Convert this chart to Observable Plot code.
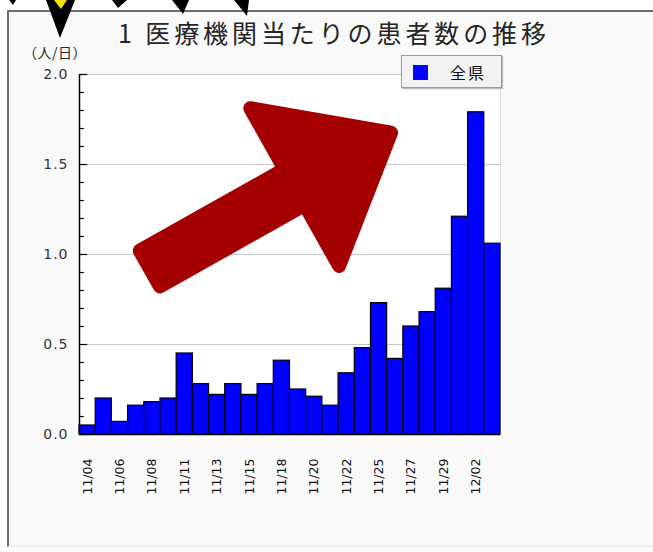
<!DOCTYPE html>
<html>
<head>
<meta charset="utf-8">
<script src="https://cdn.jsdelivr.net/npm/d3@7"></script>
<script src="https://cdn.jsdelivr.net/npm/@observablehq/plot@0.6"></script>
<style>
  body { margin: 0; background: #ffffff; }
  #wrap { position: relative; width: 653px; height: 552px; overflow: hidden; }
  #box { position: absolute; left: 7px; top: 10px; width: 700px; height: 534px;
         border-left: 2px solid #6e6e6e; border-top: 2px solid #6e6e6e; border-bottom: 1px solid #e6e6e6;
         background: #f9f9f9; }
  #chart { position: absolute; left: 0; top: 0; }
  #title { position: absolute; left: 118px; top: 20px; font-family: "Noto Sans CJK JP", sans-serif;
           font-size: 25px; line-height: 25px; letter-spacing: 3.9px; color: #252525; white-space: nowrap; }
  #ylab { position: absolute; left: 55px; top: 45px; transform: translateX(-50%);
          font-family: "Noto Sans CJK JP", sans-serif; font-size: 14px; line-height: 15px; letter-spacing: 0.5px; color: #2a2a2a; white-space: nowrap; }
  #legend { position: absolute; left: 401px; top: 55px; width: 101px; height: 33px; box-sizing: border-box;
            border: 1px solid #9a9a9a; background: #f2f2f2; box-shadow: 1px 1px 1px #bbbbbb; }
  #legend .sw { position: absolute; left: 11px; top: 9px; width: 15px; height: 15px; box-sizing: border-box;
                background: #0000ff; border: 1px solid #222; }
  #legend .lt { position: absolute; left: 48px; top: 7px; font-family: "Noto Sans CJK JP", sans-serif;
                font-size: 16px; line-height: 18px; letter-spacing: 2px; color: #111; }
  #deco { position: absolute; left: 0; top: 0; }
</style>
</head>
<body>
<div id="wrap">
  <div id="box"></div>
  <div id="chart"></div>
  <div id="title"></div>
  <div id="ylab"></div>
  <div id="legend"><div class="sw"></div><div class="lt"></div></div>
  <svg id="deco" width="653" height="60">
    <polygon points="9,0 16,0 13,5" fill="#000"/>
    <polygon points="46,0 75,0 60,38" fill="#000"/>
    <polygon points="54,0 67,0 61,9" fill="#f5e000"/>
    <polygon points="112,0 127,0 118,8" fill="#000"/>
    <polygon points="172,0 189,0 183,14" fill="#000"/>
    <polygon points="234,0 249,0 247,16" fill="#000"/>
  </svg>
</div>
<script>
// ---- data ----
const dates = ["11/04","11/05","11/06","11/07","11/08","11/09","11/11","11/12","11/13","11/14","11/15","11/16","11/18","11/19","11/20","11/21","11/22","11/23","11/25","11/26","11/27","11/28","11/29","11/30","12/02","12/03"];
const patients = [0.05,0.20,0.07,0.16,0.18,0.20,0.45,0.28,0.22,0.28,0.22,0.28,0.41,0.25,0.21,0.16,0.34,0.48,0.73,0.42,0.60,0.68,0.81,1.21,1.79,1.06];
const shownLabels = ["11/04","11/06","11/08","11/11","11/13","11/15","11/18","11/20","11/22","11/25","11/27","11/29","12/02"];
const seriesName = "全県";
const titleText = "1 医療機関当たりの患者数の推移";
const yUnit = "（人/日）";
const yTicks = [0, 0.5, 1.0, 1.5, 2.0];
const yMinorTicks = [0.1, 0.2, 0.3, 0.4, 0.6, 0.7, 0.8, 0.9, 1.1, 1.2, 1.3, 1.4, 1.6, 1.7, 1.8, 1.9];
// annotation arrow (x in bar-index units, y in value units)
const arrowAnnotation = [{x1: 4.0, y1: 0.9, x2: 19.6, y2: 1.69}];

// ---- build ----
const rows = dates.map((d, i) => ({i, date: d, value: patients[i]}));
const labelRows = rows.filter(r => shownLabels.includes(r.date));

document.getElementById("title").textContent = titleText;
document.getElementById("ylab").textContent = yUnit;
document.querySelector("#legend .lt").textContent = seriesName;

const arrowMark = (index, scales) => {
  const ns = "http://www.w3.org/2000/svg";
  const g = document.createElementNS(ns, "g");
  arrowAnnotation.forEach(a => {
    const tx = scales.x(a.x1), ty = scales.y(a.y1);
    const px = scales.x(a.x2), py = scales.y(a.y2);
    const L = Math.hypot(px - tx, py - ty);
    const ux = (px - tx) / L, uy = (py - ty) / L;
    const nx = -uy, ny = ux;
    const r = 7; // corner rounding via stroke
    const w = 20.5, W = 90.5, H = 110.7;
    const T = [tx + ux * r, ty + uy * r];
    const P = [px - ux * 6, py - uy * 6];
    const B = [P[0] - ux * H, P[1] - uy * H];
    const pts = [
      [T[0] + nx * w, T[1] + ny * w],
      [B[0] + nx * w, B[1] + ny * w],
      [B[0] + nx * W, B[1] + ny * W],
      P,
      [B[0] - nx * W, B[1] - ny * W],
      [B[0] - nx * w, B[1] - ny * w],
      [T[0] - nx * w, T[1] - ny * w]
    ];
    const path = document.createElementNS(ns, "path");
    path.setAttribute("d", "M" + pts.map(p => p[0].toFixed(1) + "," + p[1].toFixed(1)).join("L") + "Z");
    path.setAttribute("fill", "#a50000");
    path.setAttribute("stroke", "#a50000");
    path.setAttribute("stroke-width", 2 * r);
    path.setAttribute("stroke-linejoin", "round");
    g.appendChild(path);
  });
  return g;
};

const chart = Plot.plot({
  width: 653, height: 552,
  marginLeft: 79, marginRight: 153, marginTop: 74, marginBottom: 118,
  style: {background: "transparent", fontFamily: "DejaVu Sans, sans-serif", fontSize: "13px", color: "#333"},
  x: {type: "linear", domain: [0, dates.length], axis: null},
  y: {domain: [0, 2]},
  marks: [
    Plot.frame({fill: "white", stroke: "#dddddd"}),
    Plot.ruleY(yTicks, {stroke: "#c8c8c8", strokeWidth: 1}),
    Plot.rect(rows, {x1: "i", x2: d => d.i + 1, y1: 0, y2: "value", fill: "#0000ff", stroke: "#000", strokeWidth: 1.2}),
    Plot.ruleY([0], {stroke: "#000", strokeWidth: 1.5}),
    Plot.ruleX([0], {y1: 0, y2: 2, stroke: "#000", strokeWidth: 1.5}),
    Plot.ruleY(yTicks, {x1: 0, x2: 0.5, stroke: "#000", strokeWidth: 1.2}),
    Plot.ruleY(yMinorTicks, {x1: 0, x2: 0.3, stroke: "#000", strokeWidth: 1.2}),
    Plot.axisY(yTicks, {tickSize: 0, tickPadding: 11, tickFormat: d3.format(".1f"), fontSize: 14, label: null}),
    Plot.text(labelRows, {x: d => d.i + 0.5, y: 0, text: "date", rotate: -90, textAnchor: "end", dy: 24,
      fontSize: 12.5, fontFamily: "DejaVu Sans, sans-serif", fill: "#111", ariaLabel: "xlabels"}),
    arrowMark
  ]
});
chart.querySelectorAll('g[aria-label="xlabels"] text').forEach(t => t.style.letterSpacing = "1.6px");
chart.querySelectorAll('g[aria-label="y-axis tick label"] text').forEach(t => t.style.letterSpacing = "1px");
document.getElementById("chart").appendChild(chart);
</script>
</body>
</html>
